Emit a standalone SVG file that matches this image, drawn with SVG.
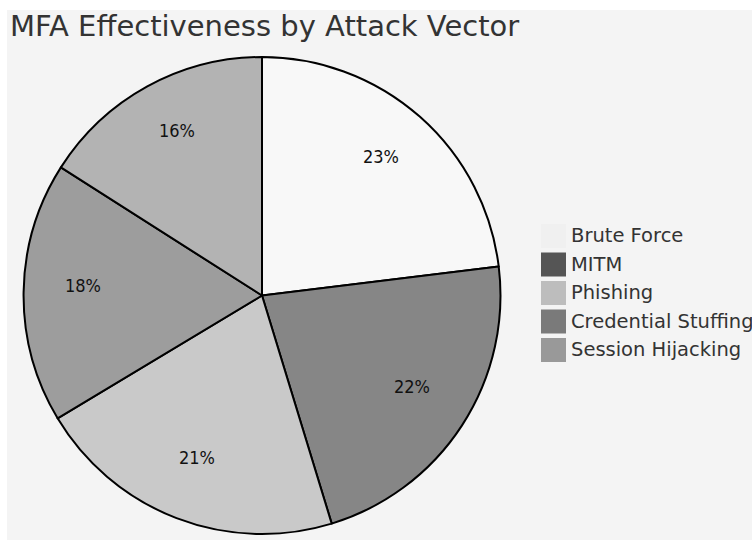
<svg xmlns="http://www.w3.org/2000/svg" width="752" height="540" viewBox="0 0 752 540">
  <style>
    .title { font-family: "DejaVu Sans", "Liberation Sans", sans-serif; font-size: 29px; fill: #333333; }
    .slice { stroke: #000000; stroke-width: 2; stroke-linejoin: round; }
    .pct { font-family: "DejaVu Sans Condensed", "DejaVu Sans", sans-serif; font-size: 18px; fill: #111111; text-anchor: middle; }
    .legend-text { font-family: "DejaVu Sans", "Liberation Sans", sans-serif; font-size: 19.5px; fill: #333333; }
  </style>
  <rect x="0" y="0" width="752" height="540" fill="#ffffff"/>
  <rect x="7" y="10" width="745" height="530" fill="#f4f4f4"/>

  <text class="title" x="10" y="36">MFA Effectiveness by Attack Vector</text>

  <g id="pie">
    <g id="slice-brute-force">
      <path class="slice" fill="#f8f8f8" d="M262,295.5 L262,57 A238.5,238.5 0 0 1 498.7,266.4 Z"/>
      <text class="pct" x="381" y="163">23%</text>
    </g>
    <g id="slice-mitm">
      <path class="slice" fill="#868686" d="M262,295.5 L498.7,266.4 A238.5,238.5 0 0 1 331.7,523.6 Z"/>
      <text class="pct" x="412" y="393">22%</text>
    </g>
    <g id="slice-phishing">
      <path class="slice" fill="#c9c9c9" d="M262,295.5 L331.7,523.6 A238.5,238.5 0 0 1 57.6,418.3 Z"/>
      <text class="pct" x="197" y="464">21%</text>
    </g>
    <g id="slice-credential-stuffing">
      <path class="slice" fill="#9d9d9d" d="M262,295.5 L57.6,418.3 A238.5,238.5 0 0 1 60.9,167.4 Z"/>
      <text class="pct" x="83" y="292">18%</text>
    </g>
    <g id="slice-session-hijacking">
      <path class="slice" fill="#b3b3b3" d="M262,295.5 L60.9,167.4 A238.5,238.5 0 0 1 262,57 Z"/>
      <text class="pct" x="177" y="137">16%</text>
    </g>
  </g>

  <g id="legend">
    <g id="legend-brute-force">
      <rect x="541" y="224" width="25" height="24" fill="#f0f0f0"/>
      <text class="legend-text" x="571" y="242">Brute Force</text>
    </g>
    <g id="legend-mitm">
      <rect x="541" y="252.5" width="25" height="24" fill="#555555"/>
      <text class="legend-text" x="571" y="270.5">MITM</text>
    </g>
    <g id="legend-phishing">
      <rect x="541" y="281" width="25" height="24" fill="#bdbdbd"/>
      <text class="legend-text" x="571" y="299">Phishing</text>
    </g>
    <g id="legend-credential-stuffing">
      <rect x="541" y="309.5" width="25" height="24" fill="#7a7a7a"/>
      <text class="legend-text" x="571" y="327.5">Credential Stuffing</text>
    </g>
    <g id="legend-session-hijacking">
      <rect x="541" y="338" width="25" height="24" fill="#999999"/>
      <text class="legend-text" x="571" y="356">Session Hijacking</text>
    </g>
  </g>
</svg>
